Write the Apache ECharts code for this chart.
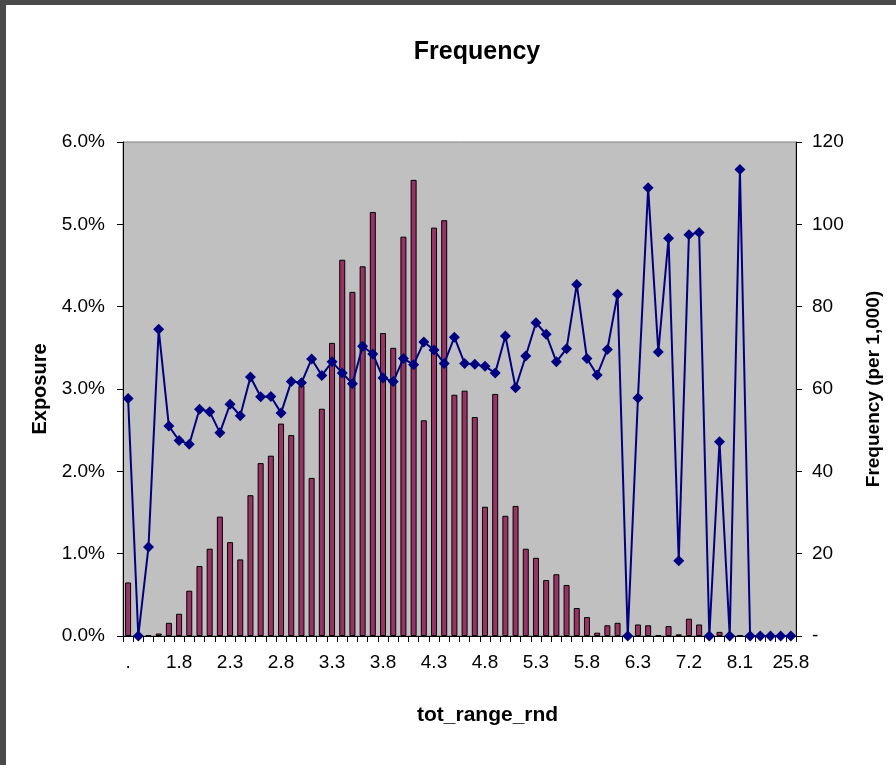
<!DOCTYPE html>
<html>
<head>
<meta charset="utf-8">
<script src="https://cdn.jsdelivr.net/npm/echarts@6/dist/echarts.min.js"></script>
<style>
  html, body { margin: 0; padding: 0; background: #fff; }
  #wrap { width: 890px; height: 760px; border-top: 5px solid #4a4a4a; border-left: 6px solid #4a4a4a; background: #fff; }
  #chart { width: 890px; height: 760px; }
</style>
</head>
<body>
<div id="wrap"><div id="chart"></div></div>
<script>
// tot_range_rnd buckets
const categories = ['.', '1.4', '1.5', '1.6', '1.7', '1.8', '1.9', '2.0', '2.1', '2.2',
  '2.3', '2.4', '2.5', '2.6', '2.7', '2.8', '2.9', '3.0', '3.1', '3.2',
  '3.3', '3.4', '3.5', '3.6', '3.7', '3.8', '3.9', '4.0', '4.1', '4.2',
  '4.3', '4.4', '4.5', '4.6', '4.7', '4.8', '4.9', '5.0', '5.1', '5.2',
  '5.3', '5.4', '5.5', '5.6', '5.7', '5.8', '5.9', '6.0', '6.1', '6.2',
  '6.3', '6.4', '6.5', '6.6', '6.8', '7.2', '7.3', '7.5', '7.6', '7.9',
  '8.1', '8.3', '8.7', '9.2', '10.4', '25.8'];

// exposure in %
const exposure = [0.65, 0, 0.01, 0.03, 0.16, 0.27, 0.55, 0.85, 1.06, 1.45,
  1.14, 0.93, 1.71, 2.10, 2.19, 2.58, 2.44, 3.04, 1.92, 2.76,
  3.56, 4.57, 4.18, 4.49, 5.15, 3.68, 3.50, 4.85, 5.54, 2.62,
  4.96, 5.05, 2.93, 2.98, 2.66, 1.57, 2.94, 1.46, 1.58, 1.06,
  0.95, 0.68, 0.75, 0.62, 0.34, 0.23, 0.04, 0.13, 0.16, 0,
  0.14, 0.13, 0.01, 0.12, 0.02, 0.21, 0.14, 0, 0.05, 0,
  0.01, 0, 0, 0, 0, 0];

// frequency per 1,000
const frequency = [57.7, 0, 21.6, 74.5, 51.0, 47.5, 46.6, 55.1, 54.5, 49.4,
  56.3, 53.5, 62.9, 58.1, 58.2, 54.2, 61.8, 61.5, 67.3, 63.3,
  66.6, 63.9, 61.3, 70.4, 68.5, 62.7, 61.8, 67.4, 65.9, 71.4,
  69.5, 66.2, 72.6, 66.2, 66.0, 65.5, 63.9, 72.9, 60.3, 68.0,
  76.1, 73.3, 66.6, 69.8, 85.4, 67.4, 63.4, 69.6, 83.0, 0,
  57.8, 108.9, 69.0, 96.6, 18.3, 97.5, 98.0, 0, 47.2, 0,
  113.3, 0, 0, 0, 0, 0];

const leftTicks = [0, 1, 2, 3, 4, 5, 6];
const rightTicks = [0, 20, 40, 60, 80, 100, 120];

const chart = echarts.init(document.getElementById('chart'));
const font = 'Liberation Sans, Arial, sans-serif';
const labelSize = 19;

chart.setOption({
  animation: false,
  textStyle: { fontFamily: font },
  title: {
    text: 'Frequency',
    left: 466,
    textAlign: 'center',
    top: 30,
    textStyle: { fontSize: 25, fontWeight: 'bold', color: '#000', fontFamily: font }
  },
  grid: {
    left: 117, right: 100, top: 137, bottom: 129,
    outerBoundsMode: 'none',
    containLabel: false,
    show: true, backgroundColor: '#c0c0c0', borderColor: '#808080', borderWidth: 1
  },
  xAxis: {
    type: 'category',
    data: categories,
    boundaryGap: true,
    axisLine: { lineStyle: { color: '#000', width: 1 } },
    axisTick: { show: true, interval: 0, length: 6, lineStyle: { color: '#000' } },
    axisLabel: {
      interval: 4, margin: 17, fontSize: labelSize, color: '#000', fontFamily: font
    },
    splitLine: { show: false }
  },
  yAxis: [
    {
      type: 'value',
      min: leftTicks[0], max: leftTicks[leftTicks.length - 1], interval: 1,
      name: 'Exposure',
      nameLocation: 'middle',
      nameGap: 73,
      nameRotate: 90,
      nameTextStyle: { fontSize: 20, fontWeight: 'bold', color: '#000', fontFamily: font },
      axisLine: { show: true, lineStyle: { color: '#000' } },
      axisTick: { show: true, length: 6, lineStyle: { color: '#000' } },
      axisLabel: {
        margin: 18, fontSize: labelSize, color: '#000', fontFamily: font,
        formatter: v => v.toFixed(1) + '%'
      },
      splitLine: { show: false }
    },
    {
      type: 'value',
      min: rightTicks[0], max: rightTicks[rightTicks.length - 1], interval: 20,
      name: 'Frequency (per 1,000)',
      nameLocation: 'middle',
      nameGap: 68,
      nameRotate: 90,
      nameTextStyle: { fontSize: labelSize, fontWeight: 'bold', color: '#000', fontFamily: font },
      axisLine: { show: true, lineStyle: { color: '#000' } },
      axisTick: { show: true, length: 6, lineStyle: { color: '#000' } },
      axisLabel: {
        margin: 16, fontSize: labelSize, color: '#000', fontFamily: font,
        formatter: v => (v === 0 ? '-' : String(v))
      },
      splitLine: { show: false }
    }
  ],
  graphic: [
    {
      type: 'text',
      left: 411,
      top: 700,
      style: {
        text: 'tot_range_rnd',
        font: 'bold 21px ' + font,
        fill: '#000'
      }
    }
  ],
  series: [
    {
      name: 'Exposure',
      type: 'bar',
      yAxisIndex: 0,
      data: exposure,
      barWidth: 6,
      itemStyle: { color: '#993366', borderColor: '#000', borderWidth: 1 },
      z: 2
    },
    {
      name: 'Frequency',
      type: 'line',
      yAxisIndex: 1,
      data: frequency,
      symbol: 'diamond',
      symbolSize: 11,
      showAllSymbol: true,
      lineStyle: { color: '#000080', width: 2 },
      itemStyle: { color: '#000080' },
      z: 3
    }
  ]
});
</script>
</body>
</html>
